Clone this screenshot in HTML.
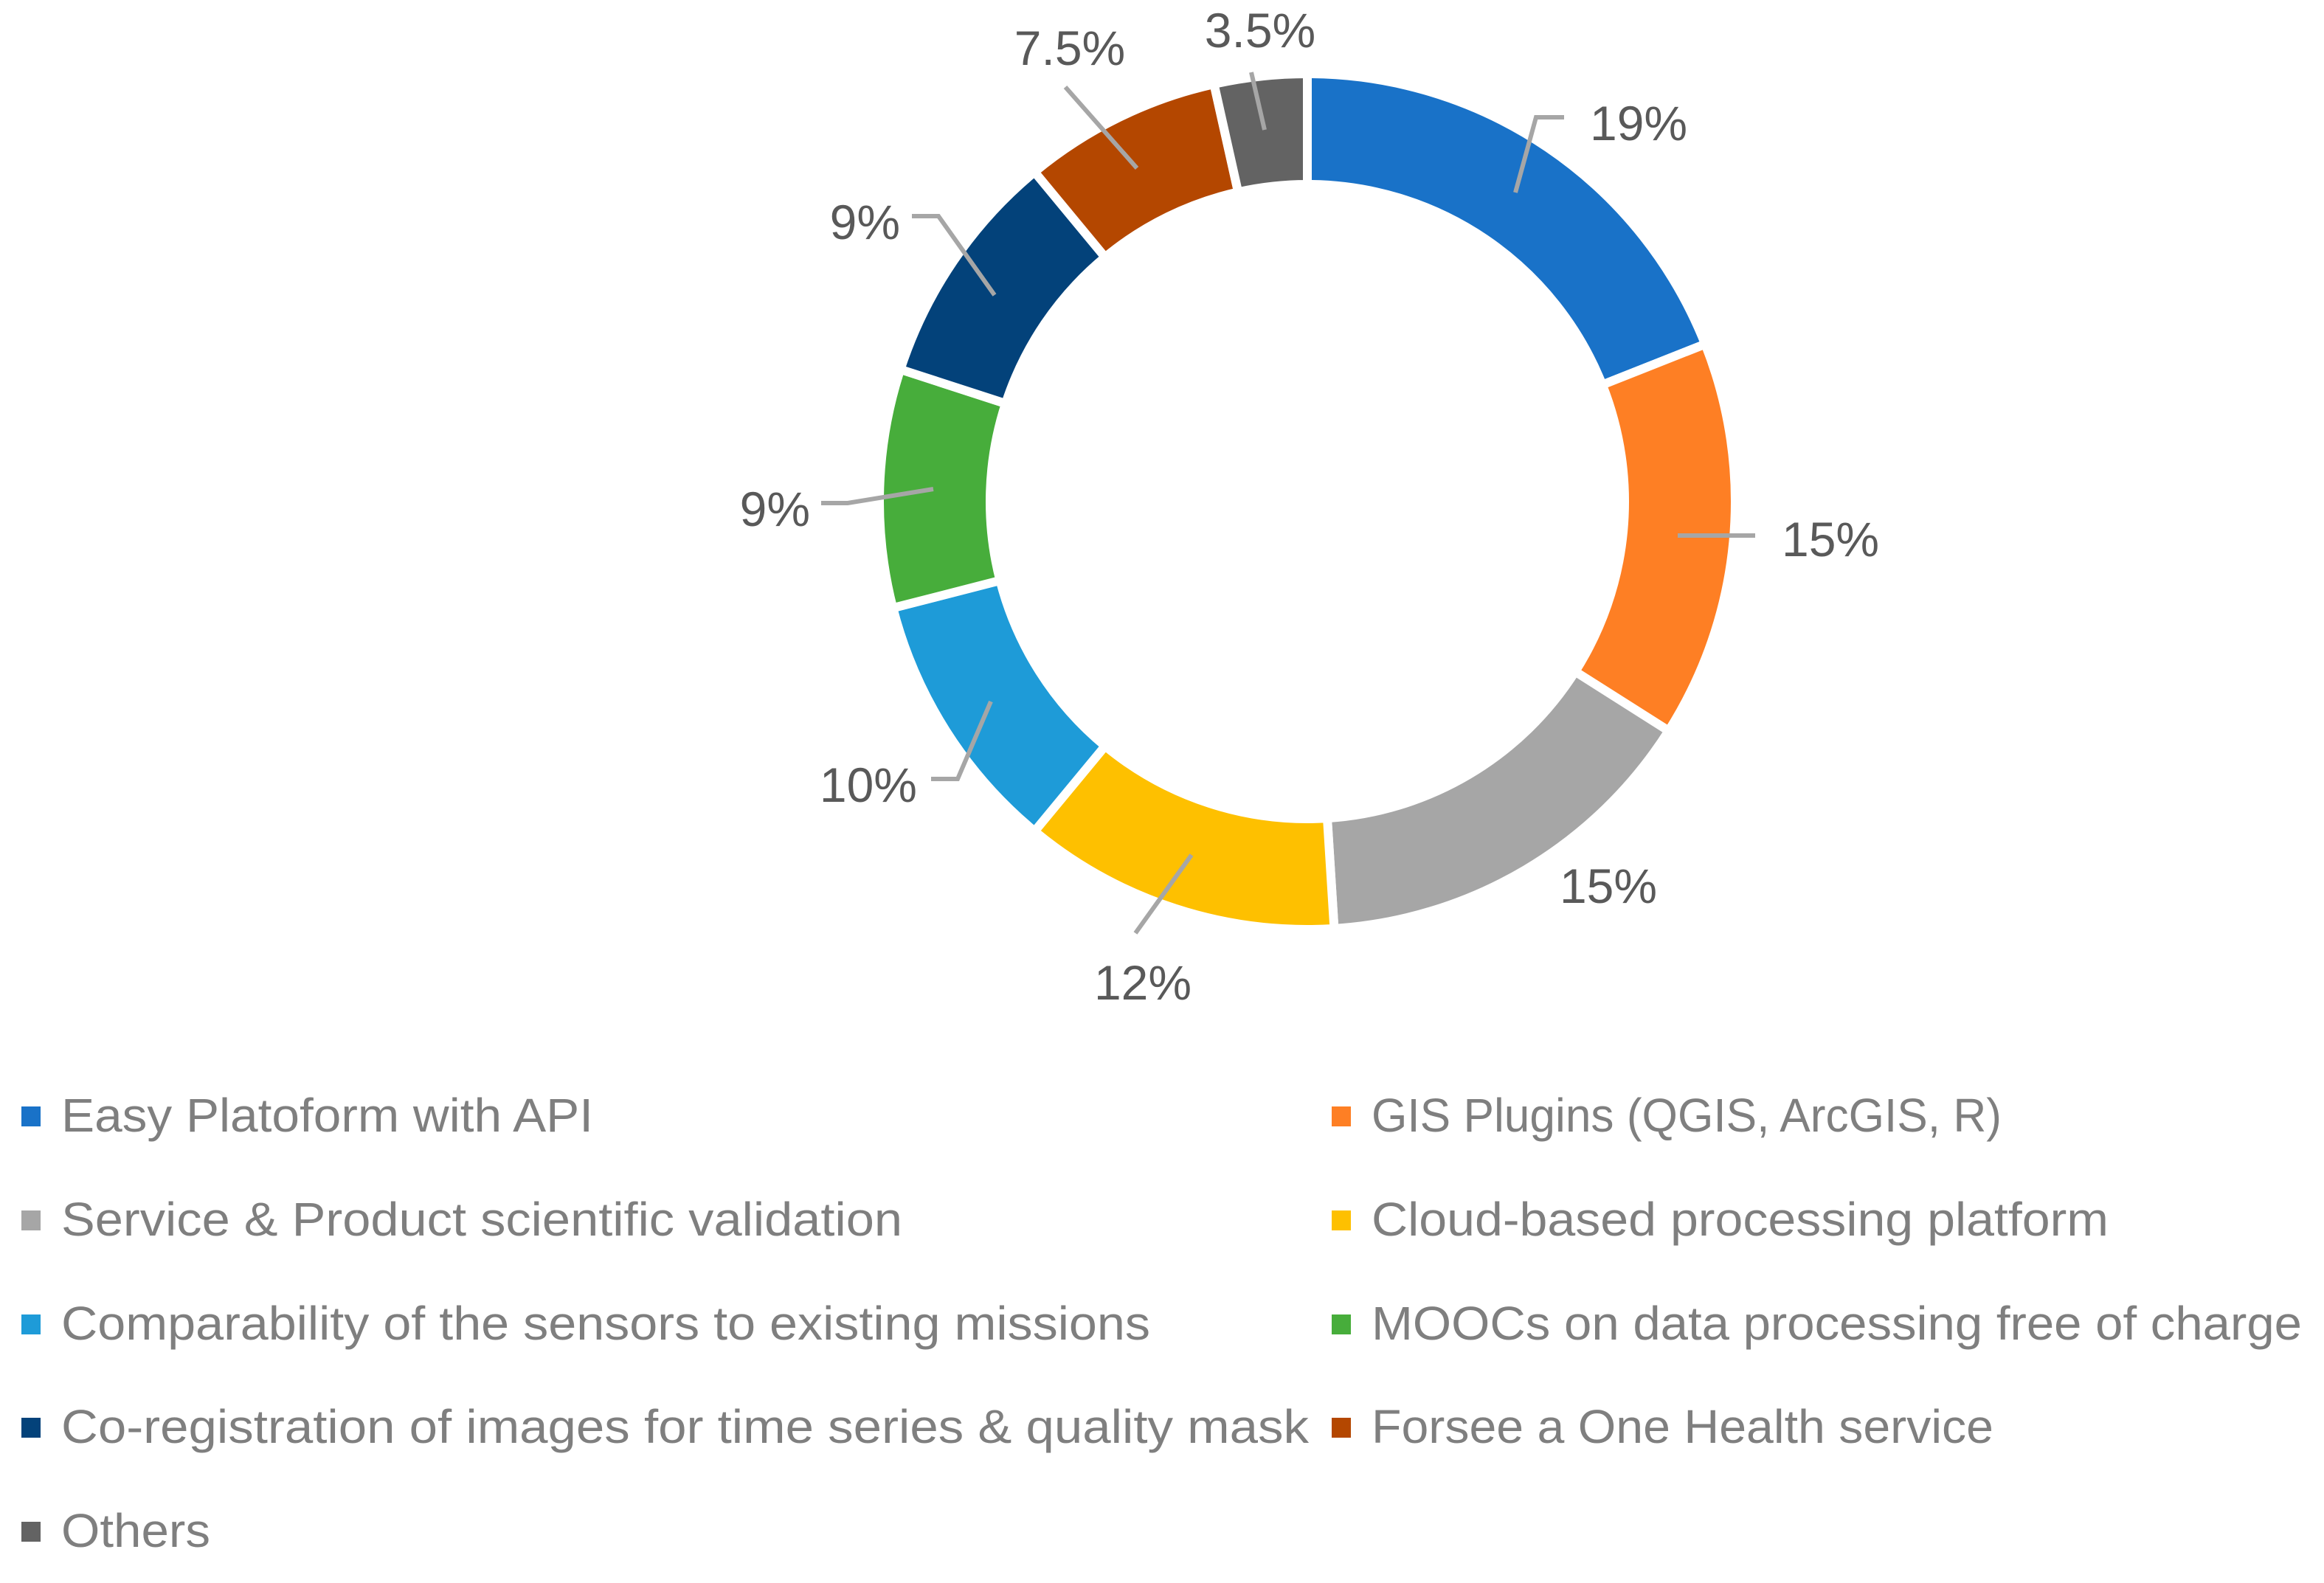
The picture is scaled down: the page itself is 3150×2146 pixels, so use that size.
<!DOCTYPE html>
<html><head><meta charset="utf-8"><style>
html,body{margin:0;padding:0;background:#fff;}
svg{display:block;}
text{font-family:"Liberation Sans",sans-serif;}
</style></head><body>
<svg id="chart" width="3150" height="2146" viewBox="0 0 3150 2146" xmlns="http://www.w3.org/2000/svg">
<g id="slices"></g>
<g id="leaders"></g>
<g id="labels"></g>
<g id="legend"></g>
</svg>
<script>
const categories = ["Easy Platoform with API","GIS Plugins (QGIS, ArcGIS, R)","Service & Product scientific validation","Cloud-based processing platform","Comparability of the sensors to existing missions","MOOCs on data processing free of charge","Co-registration of images for time series & quality mask","Forsee a One Health service","Others"];
const values = [19,15,15,12,10,9,9,7.5,3.5];
const valueLabels = ["19%","15%","15%","12%","10%","9%","9%","7.5%","3.5%"];
const colors = ["#1972c8","#fe7f24","#a6a6a6","#fec000","#1e9bd8","#47ad3b","#03427a","#b44700","#636363"];

const NS="http://www.w3.org/2000/svg";
const cx=1772, cy=680, R=580, r=430;
const total=values.reduce((a,b)=>a+b,0);
function pt(rad,frac){const a=frac*2*Math.PI;return [cx+rad*Math.sin(a), cy-rad*Math.cos(a)];}
function mk(tag,attrs,parent){const e=document.createElementNS(NS,tag);for(const k in attrs)e.setAttribute(k,attrs[k]);parent.appendChild(e);return e;}

const gS=document.getElementById('slices');
let cum=0;
values.forEach((v,i)=>{
  const f0=cum/total, f1=(cum+v)/total; cum+=v;
  const [x0,y0]=pt(R,f0),[x1,y1]=pt(R,f1),[x2,y2]=pt(r,f1),[x3,y3]=pt(r,f0);
  const large=(f1-f0)>0.5?1:0;
  const p=mk('path',{d:`M${x0},${y0} A${R},${R} 0 ${large} 1 ${x1},${y1} L${x2},${y2} A${r},${r} 0 ${large} 0 ${x3},${y3} Z`,fill:colors[i],stroke:'#fff','stroke-width':12,'stroke-linejoin':'miter'},gS);
  
  
});

const leaderPaths=[
 "M2054,261 L2082,159 L2120,159",
 "M2274,726 L2379,726",
 null,
 "M1615,1159 L1539,1265",
 "M1343,951 L1298,1056 L1262,1056",
 "M1265,663 L1149,682 L1113,682",
 "M1348,400 L1272,293 L1236,293",
 "M1541,228 L1444,118",
 "M1714,176 L1696,98"
];
const gL=document.getElementById('leaders');
leaderPaths.forEach((d,i)=>{ if(!d)return;
  const p=mk('path',{d:d,fill:'none',stroke:'#a6a6a6','stroke-width':6},gL);
  
  
});
const labelPos=[[2155,190,'start'],[2415,754,'start'],[2180,1224,'middle'],[1549,1355,'middle'],[1243,1087,'end'],[1098,713,'end'],[1220,324,'end'],[1450,88,'middle'],[1708,64,'middle']];
const gT=document.getElementById('labels');
valueLabels.forEach((t,i)=>{
  const e=mk('text',{x:labelPos[i][0],y:labelPos[i][1],'text-anchor':labelPos[i][2],'font-size':66,fill:'#595959'},gT);
  e.textContent=t;
  
  
});

const gG=document.getElementById('legend');
const rowsY=[1534,1675,1816,1956,2097];
const widths=[721,854,1140,999,1476,1261,1691,843,202];
categories.forEach((c,i)=>{
  const col=i%2, row=Math.floor(i/2);
  const sx=col?1805:29, tx=col?1859:83, by=rowsY[row];
  const g=mk('g',{},gG);
  
  
  const s=mk('rect',{x:sx,y:by-34,width:26,height:27,fill:colors[i]},g);
  
  
  const t=mk('text',{x:tx,y:by,'font-size':64,fill:'#7f7f7f',textLength:widths[i],lengthAdjust:'spacingAndGlyphs'},g);
  t.textContent=c;
  
  
});
</script>
</body></html>
